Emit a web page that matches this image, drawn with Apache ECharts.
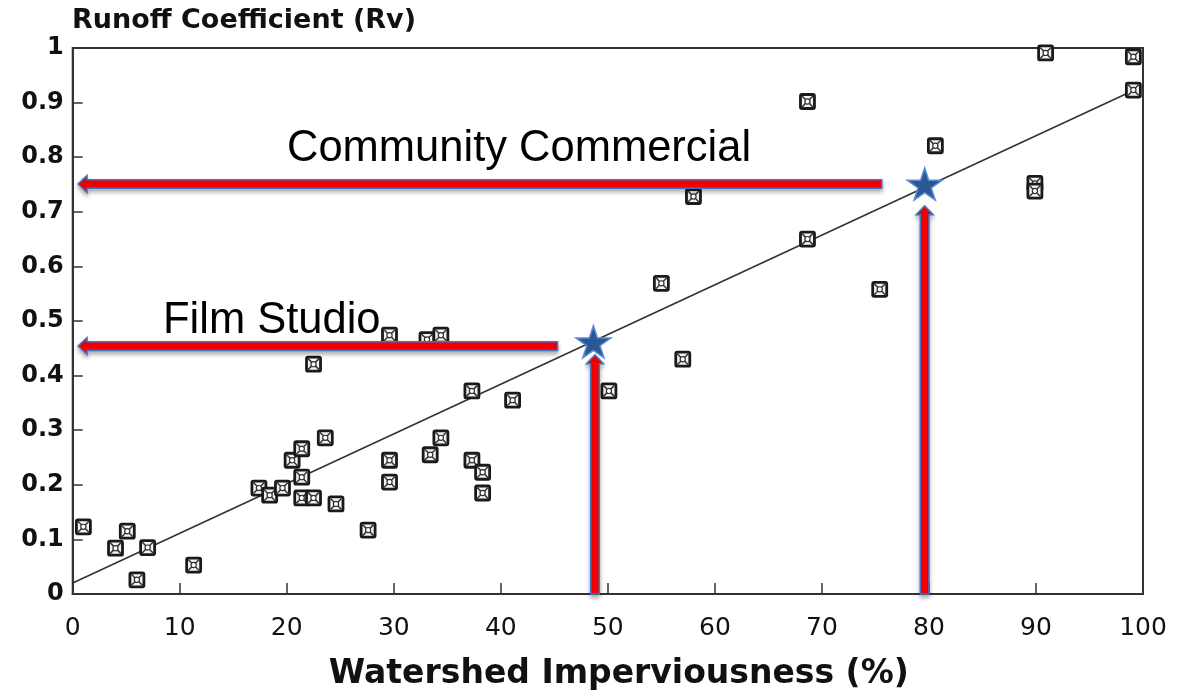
<!DOCTYPE html>
<html>
<head>
<meta charset="utf-8">
<script src="https://cdn.jsdelivr.net/npm/echarts@6/dist/echarts.min.js"></script>
<style>
html,body{margin:0;padding:0;background:#fff;}
#chart{width:1183px;height:700px;}
</style>
</head>
<body>
<div id="chart"></div>
<script>
// ---- data ----
var imperviousness = [1.0, 4.0, 5.1, 6.0, 7.0, 11.3, 17.4, 18.4, 19.6, 20.5, 21.4, 21.4, 21.4, 22.5, 22.5, 23.6, 24.6, 27.6, 29.6, 29.6, 29.6, 33.1, 34.4, 33.4, 34.4, 37.3, 37.3, 38.3, 38.3, 41.1, 50.1, 55.0, 57.0, 58.0, 68.65, 68.65, 75.4, 80.6, 89.9, 89.9, 90.9, 99.1, 99.1];
var runoff = [0.123, 0.084, 0.115, 0.026, 0.085, 0.053, 0.194, 0.181, 0.194, 0.245, 0.266, 0.214, 0.176, 0.176, 0.421, 0.286, 0.165, 0.117, 0.474, 0.245, 0.205, 0.466, 0.474, 0.255, 0.286, 0.372, 0.245, 0.223, 0.185, 0.355, 0.372, 0.569, 0.430, 0.728, 0.902, 0.650, 0.558, 0.821, 0.752, 0.738, 0.991, 0.984, 0.923];
var fitX = [0, 99.1];
var fitY = [0.02, 0.922];
var starX = [48.65, 79.6];
var starY = [0.462, 0.751];
var arrowFromX = [75.6, 45.3, 48.8, 79.6];
var arrowFromY = [0.751, 0.454, 0, 0];
var arrowToX = [0.5, 0.5, 48.8, 79.6];
var arrowToY = [0.751, 0.454, 0.438, 0.711];
var xTicks = [0, 10, 20, 30, 40, 50, 60, 70, 80, 90, 100];
var yTicks = [0, 0.1, 0.2, 0.3, 0.4, 0.5, 0.6, 0.7, 0.8, 0.9, 1];
var labelTexts = ['Community Commercial', 'Film Studio'];

var pts = imperviousness.map(function (x, i) { return [x, runoff[i]]; });
var fit = fitX.map(function (x, i) { return [x, fitY[i]]; });
var stars = starX.map(function (x, i) { return [x, starY[i]]; });
var arrows = arrowFromX.map(function (x, i) { return [x, arrowFromY[i], arrowToX[i], arrowToY[i]]; });

var chart = echarts.init(document.getElementById('chart'), null, {renderer: 'canvas'});

function markerItem(params, api) {
  var p = api.coord([api.value(0), api.value(1)]);
  var s = 7, c = '#1a1a1a';
  return {
    type: 'group',
    children: [
      {type: 'rect', shape: {x: p[0] - s, y: p[1] - s, width: 2 * s, height: 2 * s, r: 1.5}, style: {fill: '#f4f4f4', stroke: c, lineWidth: 2.8}},
      {type: 'line', shape: {x1: p[0] - s + 1.5, y1: p[1] - s + 1.5, x2: p[0] + s - 1.5, y2: p[1] + s - 1.5}, style: {stroke: '#333', lineWidth: 1.5}},
      {type: 'line', shape: {x1: p[0] + s - 1.5, y1: p[1] - s + 1.5, x2: p[0] - s + 1.5, y2: p[1] + s - 1.5}, style: {stroke: '#333', lineWidth: 1.5}},
      {type: 'circle', shape: {cx: p[0], cy: p[1], r: 2.6}, style: {fill: '#fff', stroke: '#333', lineWidth: 1.2}}
    ]
  };
}

function arrowItem(params, api) {
  var a = api.coord([api.value(0), api.value(1)]);
  var b = api.coord([api.value(2), api.value(3)]);
  var dx = b[0] - a[0], dy = b[1] - a[1];
  var len = Math.sqrt(dx * dx + dy * dy);
  var ux = dx / len, uy = dy / len;
  var nx = -uy, ny = ux;
  var hw = 4.3, hh = 8.5, hl = 9;
  var nk = [b[0] - ux * hl, b[1] - uy * hl];
  var pts2 = [
    [a[0] + nx * hw, a[1] + ny * hw],
    [nk[0] + nx * hw, nk[1] + ny * hw],
    [nk[0] + nx * hh, nk[1] + ny * hh],
    [b[0], b[1]],
    [nk[0] - nx * hh, nk[1] - ny * hh],
    [nk[0] - nx * hw, nk[1] - ny * hw],
    [a[0] - nx * hw, a[1] - ny * hw]
  ];
  return {
    type: 'polygon',
    shape: {points: pts2},
    style: {fill: '#FF0000', stroke: '#4472C4', lineWidth: 1.5, shadowBlur: 4, shadowColor: 'rgba(0,0,0,0.3)', shadowOffsetY: 3}
  };
}

var option = {
  backgroundColor: '#fff',
  animation: false,
  grid: {left: 72.7, right: 40, top: 48, bottom: 106, show: true, borderColor: '#333', borderWidth: 2, backgroundColor: 'transparent'},
  xAxis: {
    type: 'value', min: xTicks[0], max: xTicks[xTicks.length - 1], interval: 10,
    name: 'Watershed Imperviousness (%)', nameLocation: 'middle', nameGap: 64,
    nameTextStyle: {fontFamily: 'DejaVu Sans', fontWeight: 'bold', fontSize: 33, color: '#111', padding: [0, 0, 0, 22]},
    axisLine: {show: true, lineStyle: {color: '#333', width: 2}},
    axisTick: {show: true, inside: true, length: 11, lineStyle: {color: '#333', width: 1.5}},
    axisLabel: {fontFamily: 'DejaVu Sans', fontSize: 25, color: '#111', margin: 22},
    splitLine: {show: false}
  },
  yAxis: {
    type: 'value', min: yTicks[0], max: yTicks[yTicks.length - 1], interval: 0.1,
    axisLine: {show: true, lineStyle: {color: '#333', width: 2}},
    axisTick: {show: true, inside: true, length: 10, lineStyle: {color: '#333', width: 1.5}},
    axisLabel: {fontFamily: 'DejaVu Sans', fontWeight: 'bold', fontSize: 24, color: '#111', margin: 9},
    splitLine: {show: false}
  },
  graphic: [
    {type: 'text', left: 72, top: 7, style: {text: 'Runoff Coefficient (Rv)', fontFamily: 'DejaVu Sans', fontWeight: 'bold', fontSize: 27, fill: '#111'}},
    {type: 'text', left: 287, top: 127, z: 100, style: {text: labelTexts[0], fontFamily: 'Liberation Sans', fontSize: 43.5, fill: '#000'}},
    {type: 'text', left: 163, top: 299, z: 100, style: {text: labelTexts[1], fontFamily: 'Liberation Sans', fontSize: 43.5, fill: '#000'}}
  ],
  series: [
    {type: 'line', data: fit, symbol: 'none', lineStyle: {color: '#333', width: 1.6}, z: 2},
    {type: 'custom', data: pts, renderItem: markerItem, encode: {x: 0, y: 1}, z: 3},
    {type: 'custom', data: arrows, renderItem: arrowItem, encode: {x: [0, 2], y: [1, 3]}, z: 4},
    {type: 'scatter', data: stars, symbol: 'path://M50,0 L61,35 L98,35 L68,57 L79,91 L50,70 L21,91 L32,57 L2,35 L39,35 Z', symbolSize: [35, 32],
      itemStyle: {color: '#2B5797', borderColor: '#5B8BD0', borderWidth: 1.5, opacity: 1}, z: 5}
  ]
};
chart.setOption(option);
</script>
</body>
</html>
